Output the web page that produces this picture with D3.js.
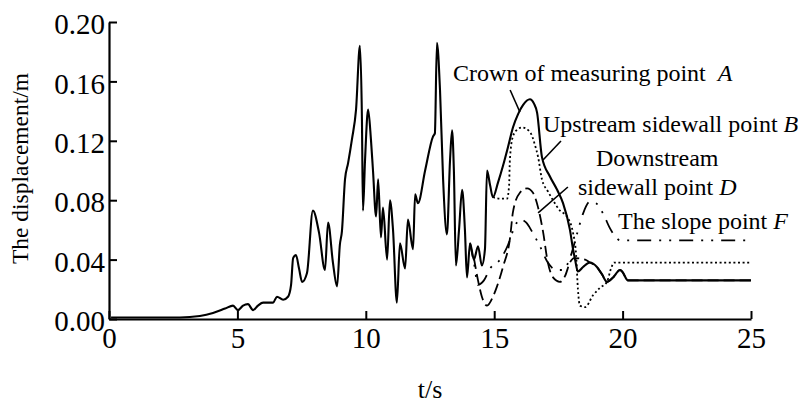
<!DOCTYPE html>
<html>
<head>
<meta charset="utf-8">
<script src="https://cdn.jsdelivr.net/npm/d3@7"></script>
<style>
  html, body { margin: 0; padding: 0; background: #fff; }
  svg { display: block; }
  svg text { font-family: "Liberation Serif", "Times New Roman", Tinos, "DejaVu Serif", serif !important; fill: #000; }
</style>
</head>
<body>
<svg id="chart" width="798" height="417"></svg>
<script>
// ---------------- data ----------------
const xTicks = [0, 5, 10, 15, 20, 25];
const yTicks = [0, 0.04, 0.08, 0.12, 0.16, 0.20];

// Crown of measuring point A (solid)
const tA = [0.08,1.21,2.76,3.54,4.05,4.52,4.83,5.02,5.22,5.41,5.61,5.80,6.00,6.19,6.39,6.54,6.78,6.97,7.09,7.17,7.28,7.40,7.52,7.71,7.94,8.18,8.41,8.53,8.72,8.88,8.99,9.07,9.19,9.31,9.46,9.62,9.77,9.85,9.89,9.97,10.09,10.20,10.28,10.40,10.48,10.59,10.67,10.83,10.94,11.06,11.21,11.33,11.53,11.64,11.84,11.92,12.03,12.31,12.62,12.69,12.77,12.89,13.01,13.16,13.28,13.36,13.43,13.51,13.63,13.75,13.86,13.94,14.06,14.21,14.37,14.52,14.64,14.72,14.84,14.95,15.15,15.34,15.54,15.73,15.93,16.12,16.39,16.55,16.67,16.86,17.17,17.45,17.68,17.95,18.07,18.15,18.26,18.46,18.73,19.00,19.20,19.39,19.63,19.90,19.98,20.21,25.00];
const vA = [0.001,0.001,0.001,0.002,0.004,0.007,0.009,0.006,0.009,0.010,0.006,0.009,0.011,0.011,0.011,0.015,0.013,0.015,0.023,0.041,0.043,0.034,0.025,0.031,0.073,0.058,0.033,0.065,0.038,0.022,0.050,0.059,0.094,0.105,0.121,0.141,0.184,0.134,0.073,0.107,0.141,0.121,0.100,0.069,0.094,0.055,0.075,0.040,0.080,0.060,0.011,0.051,0.034,0.067,0.047,0.084,0.078,0.100,0.123,0.125,0.186,0.154,0.094,0.057,0.107,0.127,0.100,0.036,0.060,0.087,0.060,0.028,0.051,0.040,0.049,0.036,0.047,0.100,0.090,0.082,0.092,0.103,0.116,0.129,0.138,0.144,0.148,0.145,0.139,0.109,0.096,0.087,0.078,0.060,0.047,0.040,0.032,0.035,0.038,0.035,0.030,0.025,0.028,0.033,0.032,0.026,0.026];

// Upstream sidewall point B (dotted)
const tB = [14.95,15.23,15.50,15.58,15.61,15.73,15.93,16.08,16.39,16.59,16.71,16.86,17.09,17.29,17.56,17.83,18.07,18.19,18.26,18.34,18.54,18.85,19.12,19.39,19.55,19.67,25.00];
const vB = [0.082,0.081,0.081,0.090,0.107,0.123,0.128,0.129,0.126,0.117,0.109,0.094,0.086,0.080,0.073,0.069,0.058,0.043,0.020,0.009,0.008,0.016,0.021,0.025,0.034,0.038,0.038];

// Downstream sidewall point D (long dash)
const tD = [14.21,14.37,14.52,14.72,14.95,15.11,15.34,15.62,15.73,16.00,16.28,16.51,16.71,16.90,17.09,17.29,17.56,17.76,17.95,18.11,18.54,18.73,19.00,19.20,19.39,19.63,19.90,19.98,20.21,25.00];
const vD = [0.041,0.026,0.015,0.009,0.015,0.022,0.035,0.055,0.072,0.085,0.088,0.085,0.075,0.059,0.038,0.028,0.025,0.029,0.038,0.041,0.040,0.038,0.035,0.030,0.025,0.028,0.033,0.032,0.026,0.026];

// The slope point F (dash-dot-dot)
const tF = [14.06,14.21,14.37,14.60,14.84,15.23,15.54,15.77,16.00,16.24,16.47,16.78,17.09,17.41,17.68,17.95,18.22,18.46,18.73,18.96,19.24,19.51,19.74,19.90,25.00];
const vF = [0.051,0.038,0.023,0.026,0.034,0.040,0.050,0.061,0.067,0.065,0.059,0.049,0.038,0.033,0.033,0.041,0.057,0.071,0.079,0.078,0.071,0.061,0.055,0.053,0.053];

// ---------------- layout ----------------
const svg = d3.select("#chart");
const x = d3.scaleLinear().domain([0, 25]).range([109, 751]);
const y = d3.scaleLinear().domain([0, 0.20]).range([319, 22]);

const zip = (t, v) => t.map((d, i) => [d, v[i]]);
const line = d3.line().x(d => x(d[0])).y(d => y(d[1])).curve(d3.curveMonotoneX);

const series = [
  { data: zip(tF, vF), dash: "14,8,2,8,2,8", width: 1.8 },
  { data: zip(tD, vD), dash: "11,5", width: 1.8 },
  { data: zip(tB, vB), dash: "2,2.6", width: 1.8 },
  { data: zip(tA, vA), dash: null, width: 2.1 }
];

svg.append("g").selectAll("path").data(series).join("path")
  .attr("d", d => line(d.data))
  .attr("fill", "none")
  .attr("stroke", "#000")
  .attr("stroke-width", d => d.width)
  .attr("stroke-dasharray", d => d.dash)
  .attr("stroke-linejoin", "round");

// axes
const xAxis = d3.axisBottom(x).tickValues(xTicks).tickFormat(d3.format("d"))
  .tickSizeInner(-8).tickSizeOuter(0).tickPadding(8);
const yAxis = d3.axisLeft(y).tickValues(yTicks).tickFormat(d3.format(".2f"))
  .tickSizeInner(-8).tickSizeOuter(0).tickPadding(4);

const gx = svg.append("g").attr("transform", `translate(0,${y(0)})`).call(xAxis);
const gy = svg.append("g").attr("transform", `translate(${x(0)},0)`).call(yAxis);
[gx, gy].forEach(g => {
  g.attr("font-family", null);
  g.select(".domain").attr("stroke-width", 2.2);
  g.selectAll(".tick line").attr("stroke-width", 2);
  g.selectAll("text").attr("font-size", 29).attr("fill", "#000");
});
gy.selectAll("text").attr("dy", "0.4em");

// axis titles
svg.append("text")
  .attr("x", (x(0) + x(25)) / 2).attr("y", 398)
  .attr("text-anchor", "middle").attr("font-size", 26)
  .text("t/s");
svg.append("text")
  .attr("transform", `translate(28,${(y(0) + y(0.2)) / 2 - 2}) rotate(-90)`)
  .attr("text-anchor", "middle").attr("font-size", 23.5)
  .text("The displacement/m");

// annotations (data coordinates)
const notes = [
  { t: 13.40, v: 0.1603, main: "Crown of measuring point\u00a0\u00a0", it: "A" },
  { t: 16.90, v: 0.1259, main: "Upstream sidewall point ", it: "B" },
  { t: 18.96, v: 0.1030, main: "Downstream", it: "" },
  { t: 18.26, v: 0.0835, main: "sidewall point ", it: "D" },
  { t: 19.82, v: 0.0606, main: "The slope point ", it: "F" }
];
const leaders = [
  [[15.62, 0.1542], [16.00, 0.1394]],
  [[17.60, 0.1199], [16.90, 0.1071]],
  [[17.87, 0.0889], [16.71, 0.0714]]
];
const nt = svg.append("g").selectAll("text").data(notes).join("text")
  .attr("x", d => x(d.t)).attr("y", d => y(d.v))
  .attr("font-size", 24);
nt.append("tspan").text(d => d.main);
nt.append("tspan").attr("font-style", "italic").text(d => d.it);

svg.append("g").selectAll("line").data(leaders).join("line")
  .attr("x1", d => x(d[0][0])).attr("y1", d => y(d[0][1]))
  .attr("x2", d => x(d[1][0])).attr("y2", d => y(d[1][1]))
  .attr("stroke", "#000").attr("stroke-width", 1.6);
</script>
</body>
</html>
